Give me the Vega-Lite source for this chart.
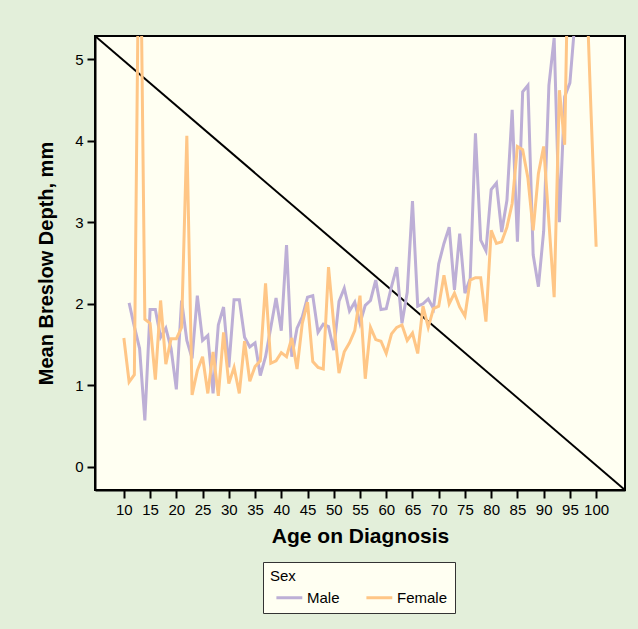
{
  "$schema": "https://vega.github.io/schema/vega-lite/v6.json",
  "width": 530,
  "height": 454,
  "autosize": {"type": "none"},
  "padding": {"left": 95, "top": 36, "right": 13, "bottom": 139},
  "background": "#E3EFDA",
  "config": {
    "font": "Liberation Sans",
    "view": {"fill": "#FFFFF2", "stroke": "#000000", "strokeWidth": 2},
    "axis": {
      "grid": false,
      "domainColor": "#000000",
      "domainWidth": 2,
      "tickColor": "#000000",
      "tickWidth": 2,
      "tickSize": 8,
      "labelColor": "#000000",
      "labelFontSize": 15,
      "labelFont": "Liberation Sans",
      "titleFont": "Liberation Sans",
      "titleFontSize": 20,
      "titleFontWeight": "bold",
      "titleColor": "#000000",
      "labelPadding": 4
    }
  },
  "datasets": {
    "diag": [{"x1": 4.5, "y1": 5.285, "x2": 105.5, "y2": -0.285}],
    "breslow": [
      {"sex": "Male", "age": 11, "depth": 2.01},
      {"sex": "Male", "age": 12, "depth": 1.72},
      {"sex": "Male", "age": 13, "depth": 1.45},
      {"sex": "Male", "age": 14, "depth": 0.57},
      {"sex": "Male", "age": 15, "depth": 1.93},
      {"sex": "Male", "age": 16, "depth": 1.93},
      {"sex": "Male", "age": 17, "depth": 1.59},
      {"sex": "Male", "age": 18, "depth": 1.70},
      {"sex": "Male", "age": 19, "depth": 1.45},
      {"sex": "Male", "age": 20, "depth": 0.95},
      {"sex": "Male", "age": 21, "depth": 2.04},
      {"sex": "Male", "age": 22, "depth": 1.55},
      {"sex": "Male", "age": 23, "depth": 1.33},
      {"sex": "Male", "age": 24, "depth": 2.10},
      {"sex": "Male", "age": 25, "depth": 1.55},
      {"sex": "Male", "age": 26, "depth": 1.61},
      {"sex": "Male", "age": 27, "depth": 0.90},
      {"sex": "Male", "age": 28, "depth": 1.74},
      {"sex": "Male", "age": 29, "depth": 1.96},
      {"sex": "Male", "age": 30, "depth": 1.22},
      {"sex": "Male", "age": 31, "depth": 2.05},
      {"sex": "Male", "age": 32, "depth": 2.05},
      {"sex": "Male", "age": 33, "depth": 1.59},
      {"sex": "Male", "age": 34, "depth": 1.47},
      {"sex": "Male", "age": 35, "depth": 1.52},
      {"sex": "Male", "age": 36, "depth": 1.12},
      {"sex": "Male", "age": 37, "depth": 1.35},
      {"sex": "Male", "age": 38, "depth": 1.71},
      {"sex": "Male", "age": 39, "depth": 2.07},
      {"sex": "Male", "age": 40, "depth": 1.67},
      {"sex": "Male", "age": 41, "depth": 2.72},
      {"sex": "Male", "age": 42, "depth": 1.35},
      {"sex": "Male", "age": 43, "depth": 1.70},
      {"sex": "Male", "age": 44, "depth": 1.84},
      {"sex": "Male", "age": 45, "depth": 2.08},
      {"sex": "Male", "age": 46, "depth": 2.10},
      {"sex": "Male", "age": 47, "depth": 1.65},
      {"sex": "Male", "age": 48, "depth": 1.75},
      {"sex": "Male", "age": 49, "depth": 1.72},
      {"sex": "Male", "age": 50, "depth": 1.43},
      {"sex": "Male", "age": 51, "depth": 2.03},
      {"sex": "Male", "age": 52, "depth": 2.19},
      {"sex": "Male", "age": 53, "depth": 1.91},
      {"sex": "Male", "age": 54, "depth": 2.02},
      {"sex": "Male", "age": 55, "depth": 1.76},
      {"sex": "Male", "age": 56, "depth": 1.98},
      {"sex": "Male", "age": 57, "depth": 2.04},
      {"sex": "Male", "age": 58, "depth": 2.29},
      {"sex": "Male", "age": 59, "depth": 1.93},
      {"sex": "Male", "age": 60, "depth": 1.94},
      {"sex": "Male", "age": 61, "depth": 2.21},
      {"sex": "Male", "age": 62, "depth": 2.45},
      {"sex": "Male", "age": 63, "depth": 1.76},
      {"sex": "Male", "age": 64, "depth": 2.14},
      {"sex": "Male", "age": 65, "depth": 3.26},
      {"sex": "Male", "age": 66, "depth": 1.97},
      {"sex": "Male", "age": 67, "depth": 2.00},
      {"sex": "Male", "age": 68, "depth": 2.06},
      {"sex": "Male", "age": 69, "depth": 1.94},
      {"sex": "Male", "age": 70, "depth": 2.49},
      {"sex": "Male", "age": 71, "depth": 2.74},
      {"sex": "Male", "age": 72, "depth": 2.94},
      {"sex": "Male", "age": 73, "depth": 2.17},
      {"sex": "Male", "age": 74, "depth": 2.86},
      {"sex": "Male", "age": 75, "depth": 2.13},
      {"sex": "Male", "age": 76, "depth": 2.31},
      {"sex": "Male", "age": 77, "depth": 4.09},
      {"sex": "Male", "age": 78, "depth": 2.78},
      {"sex": "Male", "age": 79, "depth": 2.65},
      {"sex": "Male", "age": 80, "depth": 3.40},
      {"sex": "Male", "age": 81, "depth": 3.48},
      {"sex": "Male", "age": 82, "depth": 2.88},
      {"sex": "Male", "age": 83, "depth": 3.27},
      {"sex": "Male", "age": 84, "depth": 4.38},
      {"sex": "Male", "age": 85, "depth": 2.76},
      {"sex": "Male", "age": 86, "depth": 4.60},
      {"sex": "Male", "age": 87, "depth": 4.68},
      {"sex": "Male", "age": 88, "depth": 2.60},
      {"sex": "Male", "age": 89, "depth": 2.21},
      {"sex": "Male", "age": 90, "depth": 2.89},
      {"sex": "Male", "age": 91, "depth": 4.68},
      {"sex": "Male", "age": 92, "depth": 5.26},
      {"sex": "Male", "age": 93, "depth": 3.00},
      {"sex": "Male", "age": 94, "depth": 4.54},
      {"sex": "Male", "age": 95, "depth": 4.71},
      {"sex": "Male", "age": 96, "depth": 5.50},
      {"sex": "Female", "age": 10, "depth": 1.58},
      {"sex": "Female", "age": 11, "depth": 1.04},
      {"sex": "Female", "age": 12, "depth": 1.13},
      {"sex": "Female", "age": 13, "depth": 7.5},
      {"sex": "Female", "age": 14, "depth": 1.81},
      {"sex": "Female", "age": 15, "depth": 1.76},
      {"sex": "Female", "age": 16, "depth": 1.07},
      {"sex": "Female", "age": 17, "depth": 2.04},
      {"sex": "Female", "age": 18, "depth": 1.26},
      {"sex": "Female", "age": 19, "depth": 1.57},
      {"sex": "Female", "age": 20, "depth": 1.57},
      {"sex": "Female", "age": 21, "depth": 1.71},
      {"sex": "Female", "age": 22, "depth": 4.06},
      {"sex": "Female", "age": 23, "depth": 0.88},
      {"sex": "Female", "age": 24, "depth": 1.18},
      {"sex": "Female", "age": 25, "depth": 1.35},
      {"sex": "Female", "age": 26, "depth": 0.90},
      {"sex": "Female", "age": 27, "depth": 1.41},
      {"sex": "Female", "age": 28, "depth": 0.87},
      {"sex": "Female", "age": 29, "depth": 1.65},
      {"sex": "Female", "age": 30, "depth": 1.02},
      {"sex": "Female", "age": 31, "depth": 1.22},
      {"sex": "Female", "age": 32, "depth": 0.90},
      {"sex": "Female", "age": 33, "depth": 1.54},
      {"sex": "Female", "age": 34, "depth": 1.05},
      {"sex": "Female", "age": 35, "depth": 1.23},
      {"sex": "Female", "age": 36, "depth": 1.30},
      {"sex": "Female", "age": 37, "depth": 2.25},
      {"sex": "Female", "age": 38, "depth": 1.27},
      {"sex": "Female", "age": 39, "depth": 1.30},
      {"sex": "Female", "age": 40, "depth": 1.40},
      {"sex": "Female", "age": 41, "depth": 1.35},
      {"sex": "Female", "age": 42, "depth": 1.58},
      {"sex": "Female", "age": 43, "depth": 1.20},
      {"sex": "Female", "age": 44, "depth": 1.76},
      {"sex": "Female", "age": 45, "depth": 2.02},
      {"sex": "Female", "age": 46, "depth": 1.29},
      {"sex": "Female", "age": 47, "depth": 1.22},
      {"sex": "Female", "age": 48, "depth": 1.20},
      {"sex": "Female", "age": 49, "depth": 2.45},
      {"sex": "Female", "age": 50, "depth": 1.75},
      {"sex": "Female", "age": 51, "depth": 1.15},
      {"sex": "Female", "age": 52, "depth": 1.41},
      {"sex": "Female", "age": 53, "depth": 1.52},
      {"sex": "Female", "age": 54, "depth": 1.67},
      {"sex": "Female", "age": 55, "depth": 2.10},
      {"sex": "Female", "age": 56, "depth": 1.08},
      {"sex": "Female", "age": 57, "depth": 1.71},
      {"sex": "Female", "age": 58, "depth": 1.56},
      {"sex": "Female", "age": 59, "depth": 1.54},
      {"sex": "Female", "age": 60, "depth": 1.39},
      {"sex": "Female", "age": 61, "depth": 1.63},
      {"sex": "Female", "age": 62, "depth": 1.71},
      {"sex": "Female", "age": 63, "depth": 1.74},
      {"sex": "Female", "age": 64, "depth": 1.55},
      {"sex": "Female", "age": 65, "depth": 1.64},
      {"sex": "Female", "age": 66, "depth": 1.39},
      {"sex": "Female", "age": 67, "depth": 1.97},
      {"sex": "Female", "age": 68, "depth": 1.71},
      {"sex": "Female", "age": 69, "depth": 1.94},
      {"sex": "Female", "age": 70, "depth": 1.97},
      {"sex": "Female", "age": 71, "depth": 2.35},
      {"sex": "Female", "age": 72, "depth": 2.00},
      {"sex": "Female", "age": 73, "depth": 2.13},
      {"sex": "Female", "age": 74, "depth": 1.96},
      {"sex": "Female", "age": 75, "depth": 1.85},
      {"sex": "Female", "age": 76, "depth": 2.29},
      {"sex": "Female", "age": 77, "depth": 2.32},
      {"sex": "Female", "age": 78, "depth": 2.32},
      {"sex": "Female", "age": 79, "depth": 1.78},
      {"sex": "Female", "age": 80, "depth": 2.90},
      {"sex": "Female", "age": 81, "depth": 2.74},
      {"sex": "Female", "age": 82, "depth": 2.76},
      {"sex": "Female", "age": 83, "depth": 2.94},
      {"sex": "Female", "age": 84, "depth": 3.23},
      {"sex": "Female", "age": 85, "depth": 3.93},
      {"sex": "Female", "age": 86, "depth": 3.89},
      {"sex": "Female", "age": 87, "depth": 3.54},
      {"sex": "Female", "age": 88, "depth": 2.90},
      {"sex": "Female", "age": 89, "depth": 3.60},
      {"sex": "Female", "age": 90, "depth": 3.93},
      {"sex": "Female", "age": 91, "depth": 3.00},
      {"sex": "Female", "age": 92, "depth": 2.08},
      {"sex": "Female", "age": 93, "depth": 4.62},
      {"sex": "Female", "age": 94, "depth": 3.95},
      {"sex": "Female", "age": 95, "depth": 7.5},
      {"sex": "Female", "age": 96, "depth": 7.5},
      {"sex": "Female", "age": 97, "depth": 7.0},
      {"sex": "Female", "age": 98, "depth": 6.2},
      {"sex": "Female", "age": 99, "depth": 4.4},
      {"sex": "Female", "age": 100, "depth": 2.70}
    ]
  },
  "layer": [
    {
      "data": {"name": "diag"},
      "mark": {"type": "rule", "color": "#000000", "strokeWidth": 2, "clip": true},
      "encoding": {
        "x": {
          "field": "x1", "type": "quantitative",
          "scale": {"domain": [4.5, 105.5], "nice": false, "zero": false},
          "axis": {"title": "Age on Diagnosis", "values": [10,15,20,25,30,35,40,45,50,55,60,65,70,75,80,85,90,95,100], "labelFlush": false, "labelOverlap": false, "titlePadding": 8, "titleFontSize": 21}
        },
        "y": {
          "field": "y1", "type": "quantitative",
          "scale": {"domain": [-0.285, 5.285], "nice": false, "zero": false},
          "axis": {"title": "Mean Breslow Depth, mm", "values": [0,1,2,3,4,5], "titlePadding": 18}
        },
        "x2": {"field": "x2"},
        "y2": {"field": "y2"}
      }
    },
    {
      "data": {"name": "breslow"},
      "mark": {"type": "line", "strokeWidth": 3, "clip": true},
      "encoding": {
        "x": {
          "field": "age", "type": "quantitative",
          "scale": {"domain": [4.5, 105.5], "nice": false, "zero": false},
          "axis": {"title": "Age on Diagnosis", "values": [10,15,20,25,30,35,40,45,50,55,60,65,70,75,80,85,90,95,100], "labelFlush": false, "labelOverlap": false, "titlePadding": 8, "titleFontSize": 21}
        },
        "y": {
          "field": "depth", "type": "quantitative",
          "scale": {"domain": [-0.285, 5.285], "nice": false, "zero": false},
          "axis": {"title": "Mean Breslow Depth, mm", "values": [0,1,2,3,4,5], "titlePadding": 18}
        },
        "color": {
          "field": "sex", "type": "nominal",
          "scale": {"domain": ["Male", "Female"], "range": ["#BDAFD6", "#FFC686"]},
          "legend": {
            "title": "Sex",
            "orient": "none",
            "legendX": 168,
            "legendY": 526,
            "direction": "horizontal",
            "strokeColor": "#333333",
            "fillColor": "#FFFFF2",
            "padding": 7,
            "titleFontSize": 15,
            "titleFontWeight": "normal",
            "titleColor": "#000000",
            "titlePadding": 5,
            "labelFontSize": 15,
            "labelColor": "#000000",
            "symbolType": "M-0.3,0L3.4,0",
            "symbolSize": 196,
            "symbolStrokeWidth": 3,
            "labelOffset": 20,
            "columnPadding": 20
          }
        },
        "order": {"field": "age", "type": "quantitative"}
      }
    }
  ]
}
